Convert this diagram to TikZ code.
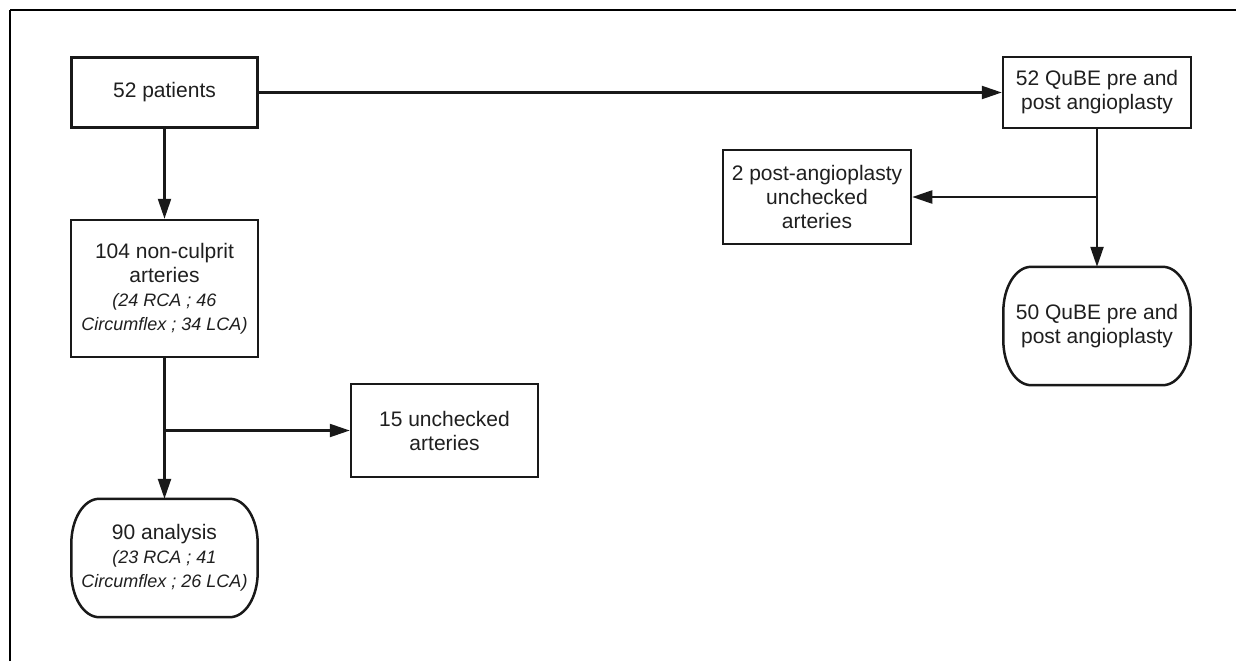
\documentclass[tikz,border=0pt]{standalone}
\usepackage{fontspec}
\setmainfont{Liberation Sans}
\usetikzlibrary{arrows.meta,calc}
\newcommand{\mainf}{\fontsize{21}{24}\selectfont}
\newcommand{\itf}{\fontsize{18}{22}\selectfont\itshape}
\newcommand{\stadium}[1]{%
  \draw[boxline] let \p1=(#1.north west), \p2=(#1.south east) in
  (\x1+28pt,\y1) -- (\x2-28pt,\y1)
  .. controls (\x2-12.5pt,\y1) and (\x2,\y1-20pt) .. (\x2,\y1-45pt)
  -- (\x2,\y2+45pt)
  .. controls (\x2,\y2+20pt) and (\x2-12.5pt,\y2) .. (\x2-28pt,\y2)
  -- (\x1+28pt,\y2)
  .. controls (\x1+12.5pt,\y2) and (\x1,\y2+20pt) .. (\x1,\y2+45pt)
  -- (\x1,\y1-45pt)
  .. controls (\x1,\y1-20pt) and (\x1+12.5pt,\y1) .. (\x1+28pt,\y1) -- cycle;}
\begin{document}
\begin{tikzpicture}[x=1pt,y=-1pt,
  boxline/.style={line width=2.5pt, draw=black!90},
  rectbox/.style={boxline, rectangle, align=center, inner sep=0pt, font=\mainf, text=black!88},
  roundbox/.style={rectangle, draw=none, align=center, inner sep=0pt, font=\mainf, text=black!88},
  arr/.style={line width=2.3pt, draw=black!90, -{Triangle[length=20pt,width=13pt]}}]
\useasboundingbox (0,0) rectangle (1236,661);
\fill[white] (0,0) rectangle (1236,661);
\draw[line width=2pt] (10,661) -- (10,10);
\draw[line width=1.4pt] (10,10) -- (1236,10);

\node[rectbox, minimum width=186pt, minimum height=70pt] (p52) at (164.5,92.5) {52 patients};
\node[rectbox, minimum width=188pt, minimum height=71pt] (q52) at (1097,92.5) {52 QuBE pre and\\post angioplasty};
\node[rectbox, minimum width=187pt, minimum height=137pt] (a104) at (164.5,288.5)
  {104 non-culprit\\arteries\\{\itf (24 RCA ; 46}\\{\itf Circumflex ; 34 LCA)}};
\node[rectbox, minimum width=187pt, minimum height=93pt] (u15) at (444.5,430.5) {15 unchecked\\arteries};
\node[rectbox, minimum width=188pt, minimum height=94pt] (post2) at (817,197) {2 post-angioplasty\\unchecked\\arteries};
\node[roundbox, minimum width=186pt, minimum height=118pt] (an90) at (164.5,558)
  {90 analysis\\{\itf (23 RCA ; 41}\\{\itf Circumflex ; 26 LCA)}};
\node[roundbox, minimum width=187pt, minimum height=118pt] (q50) at (1097,326) {50 QuBE pre and\\post angioplasty};
\stadium{an90}
\stadium{q50}

\coordinate (j1) at (a104.south |- u15.west);
\coordinate (j2) at (q52.south |- post2.east);

\draw[arr] (p52.east) -- (q52.west);
\draw[arr] (p52.south) -- (a104.north);
\draw[arr] (a104.south) -- (an90.north);
\draw[arr] (j1) -- (u15.west);
\draw[arr] (q52.south) -- (q50.north);
\draw[arr] (j2) -- (post2.east);
\end{tikzpicture}
\end{document}
